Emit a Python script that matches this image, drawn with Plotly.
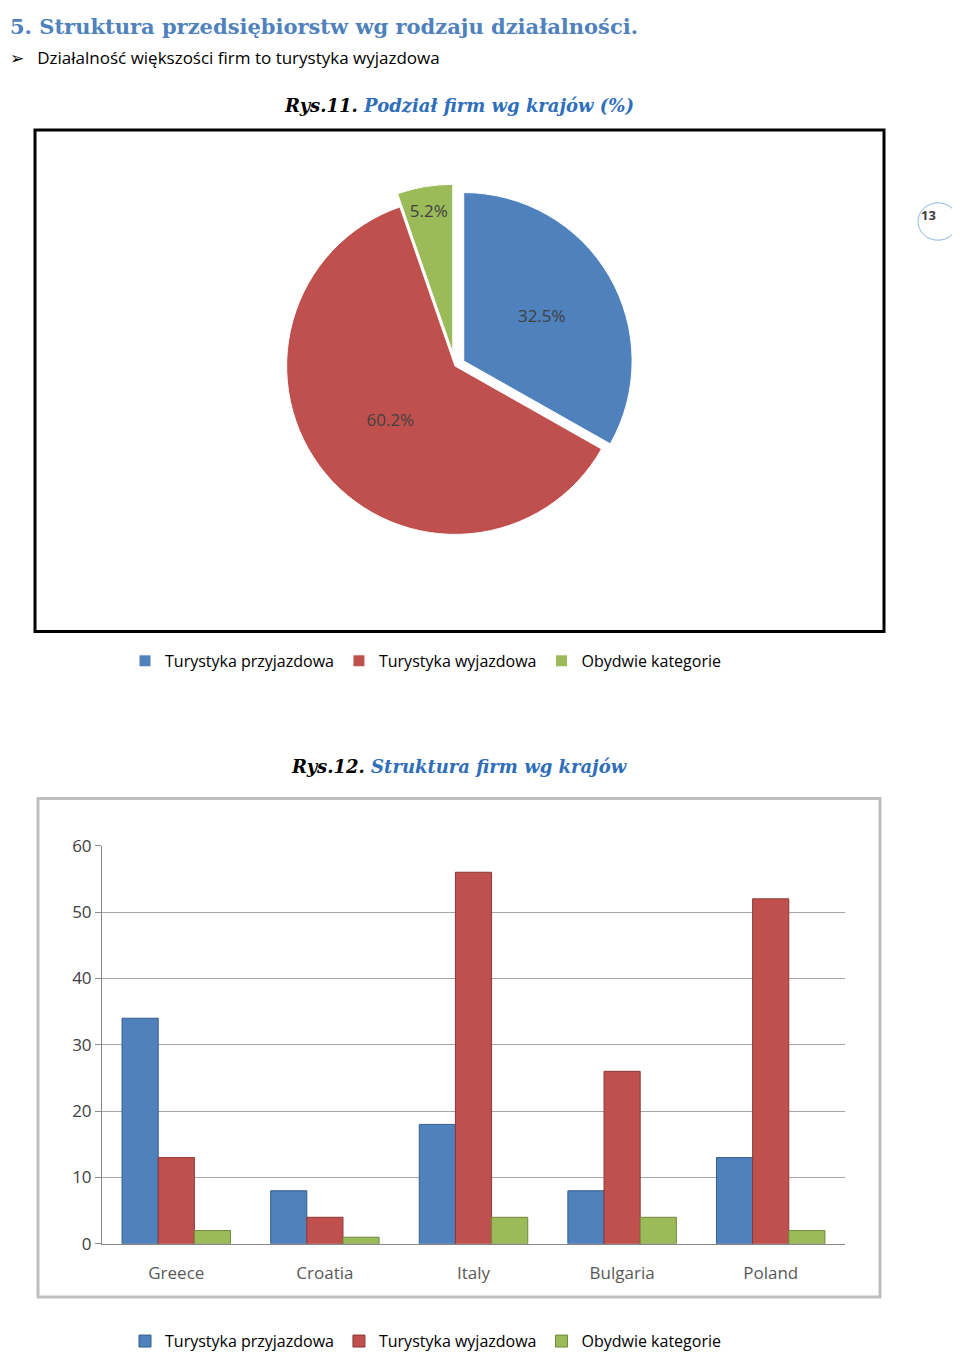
import plotly.graph_objects as go

pie_labels = ["Turystyka przyjazdowa", "Turystyka wyjazdowa", "Obydwie kategorie"]
pie_values = [32.5, 60.2, 5.2]
colors = ["#4F81BD", "#C0504D", "#9BBB59"]

countries = ["Greece", "Croatia", "Italy", "Bulgaria", "Poland"]
przyjazdowa = [34, 8, 18, 8, 13]
wyjazdowa = [13, 4, 56, 26, 52]
obydwie = [2, 1, 4, 4, 2]

W, H = 944, 1353
def px(t):
    return max(0, (t - 8) / W)
def py(t):
    return 1 - (t - 8) / H

fig = go.Figure()
fig.add_trace(go.Pie(
    labels=pie_labels, values=pie_values, sort=False, direction="clockwise",
    rotation=0, pull=[0.06, 0.0, 0.08],
    marker=dict(colors=colors, line=dict(color="white", width=1)),
    texttemplate="%{value:.1f}%", textposition="inside",
    textfont=dict(size=17, color="#404040", family="Open Sans"),
    domain=dict(x=[px(135), px(775)], y=[py(545), py(175)]),
    legend="legend", hoverinfo="label+value",
))
for name, vals, c, lc in zip(pie_labels, [przyjazdowa, wyjazdowa, obydwie], colors,
                             ["#385D8A", "#8C3836", "#71893F"]):
    fig.add_trace(go.Bar(
        x=countries, y=vals, name=name, marker=dict(color=c, line=dict(color=lc, width=1)),
        legend="legend2", xaxis="x", yaxis="y",
    ))

fig.update_layout(
    width=W, height=H, margin=dict(l=0, r=0, t=0, b=0),
    paper_bgcolor="white", plot_bgcolor="white",
    barmode="group", bargap=0.27, bargroupgap=0.0,
    font=dict(family="Open Sans", color="black"),
    xaxis=dict(domain=[px(102), px(845)], showline=True, linecolor="#888",
               ticks="outside", ticklen=14, tickcolor="rgba(0,0,0,0)",
               tickfont=dict(size=17, color="#595959")),
    yaxis=dict(domain=[py(1253), py(848)], range=[0, 60], dtick=10,
               gridcolor="#A6A6A6", showline=True, linecolor="#888",
               tickfont=dict(size=17, color="#404040"), ticks="outside", ticklen=6,
               tickcolor="#888"),
    legend=dict(orientation="h", x=px(125), y=py(660), xanchor="left", yanchor="middle",
                font=dict(size=16), itemwidth=30, traceorder="normal"),
    legend2=dict(orientation="h", x=px(125), y=py(1352), xanchor="left", yanchor="middle",
                 font=dict(size=16), itemwidth=30, traceorder="normal"),
    annotations=[
        dict(text="<b>5. Struktura przedsiębiorstw wg rodzaju działalności.</b>", x=0, y=py(15),
             xref="paper", yref="paper", xanchor="left", yanchor="middle", showarrow=False,
             font=dict(family="DejaVu Serif", size=21, color="#4F81BD")),
        dict(text="➢   Działalność większości firm to turystyka wyjazdowa", x=0, y=py(46),
             xref="paper", yref="paper", xanchor="left", yanchor="middle", showarrow=False,
             font=dict(family="Open Sans", size=17, color="black")),
        dict(text="<b><i>Rys.11. <span style='color:#2F6EBA'>Podział firm wg krajów (%)</span></i></b>",
             x=px(459), y=py(95), xref="paper", yref="paper", yanchor="middle", showarrow=False,
             font=dict(family="DejaVu Serif", size=18, color="black")),
        dict(text="<b><i>Rys.12. <span style='color:#2F6EBA'>Struktura firm wg krajów</span></i></b>",
             x=px(459), y=py(767), xref="paper", yref="paper", yanchor="middle", showarrow=False,
             font=dict(family="DejaVu Serif", size=18, color="black")),
        dict(text="<b>13</b>", x=px(938), y=py(206), xref="paper", yref="paper",
             yanchor="middle", showarrow=False, font=dict(size=13, color="#404040")),
    ],
    shapes=[
        dict(type="rect", xref="paper", yref="paper", x0=px(35), x1=px(884),
             y0=py(630), y1=py(120), line=dict(color="black", width=3)),
        dict(type="rect", xref="paper", yref="paper", x0=px(38), x1=px(880),
             y0=py(1307), y1=py(800), line=dict(color="#BFBFBF", width=3)),
        dict(type="circle", xref="paper", yref="paper", x0=px(918), x1=px(958),
             y0=py(232), y1=py(194), line=dict(color="#8DB3E2", width=1)),
    ],
)
fig.write_html("out.html")
